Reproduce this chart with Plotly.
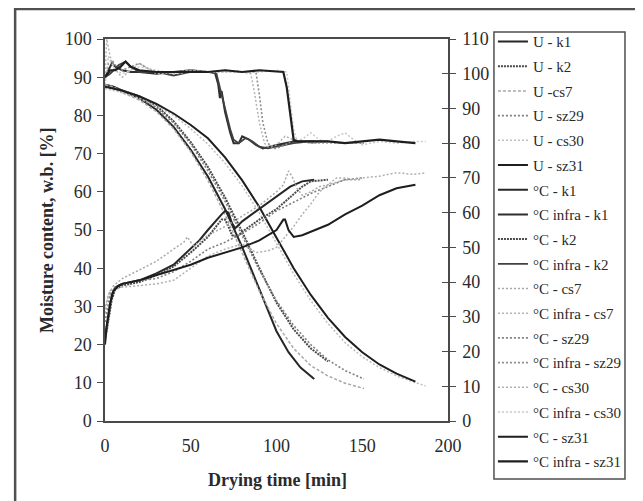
import plotly.graph_objects as go

# ---------------- data ----------------
# Moisture content, w.b. [%] (left axis)
t_U_k1 = [0, 5, 10, 20, 30, 40, 50, 60, 70, 80, 90, 100, 107, 114, 122]
U_k1 = [88, 87.5, 86.5, 84.5, 81.5, 77, 71, 64, 55.5, 45.5, 34.5, 23.5, 18, 14, 11]

t_U_k2 = [0, 5, 10, 20, 30, 40, 50, 60, 70, 80, 90, 100, 110, 120, 130]
U_k2 = [88, 87.5, 86.5, 85, 82.5, 78.5, 73, 66.5, 58.5, 49.5, 40, 31, 24, 19, 15.6]

t_U_cs7 = [0, 5, 10, 20, 30, 40, 50, 60, 70, 80, 90, 100, 110, 120, 130, 140, 151]
U_cs7 = [88, 87.5, 86, 84, 81, 76.5, 70.5, 63, 54, 44, 34, 25.5, 19, 14.5, 11.8, 9.9, 8.5]

t_U_sz29 = [0, 5, 10, 20, 30, 40, 50, 60, 70, 80, 90, 100, 110, 120, 130, 140, 151]
U_sz29 = [87.5, 87, 86, 84.5, 82, 78, 72.5, 65.5, 57.5, 48.5, 39.5, 31.5, 25, 20, 16, 13.2, 11]

t_U_cs30 = [0, 5, 10, 20, 30, 40, 50, 60, 70, 80, 90, 100, 110, 120, 130, 140, 150, 160, 170, 180, 187]
U_cs30 = [87, 86.5, 86, 84.5, 82.5, 80, 76.5, 72.5, 67.5, 61.5, 54.5, 46.5, 38.5, 31.5, 25.5, 20.5, 16.8, 14, 11.8, 10.2, 9.2]

t_U_sz31 = [0, 5, 10, 20, 30, 40, 50, 60, 70, 80, 90, 100, 110, 120, 130, 140, 150, 160, 170, 181]
U_sz31 = [87.5, 87, 86.5, 85, 83, 80.5, 77.5, 74, 69, 63, 56, 48, 40, 33, 27, 22, 18, 14.8, 12.4, 10.3]

# Product temperature [°C] (right axis)
t_T_k1 = [0, 2, 4, 6, 10, 20, 30, 40, 50, 55, 60, 65, 68, 70, 72, 74, 76, 80, 90, 100, 108, 115, 122]
T_k1 = [24, 31, 36.5, 38.5, 39.5, 40.5, 42.5, 45, 49.5, 52, 55, 58, 59.5, 60.5, 60, 57, 55.5, 57.5, 61, 64.5, 67.5, 69, 69.5]

t_T_k2 = [0, 2, 4, 6, 10, 20, 30, 40, 50, 60, 65, 68, 70, 72, 74, 77, 80, 90, 100, 110, 115, 120, 130]
T_k2 = [23, 29.5, 35, 38, 39, 40, 42, 44.5, 48.5, 53, 56, 58, 58, 56, 53.5, 53, 54.5, 58, 61, 65.5, 67.5, 69, 69.5]

t_T_cs7 = [0, 2, 5, 10, 20, 30, 40, 46, 48, 50, 52, 60, 70, 80, 90, 100, 104, 107, 109, 112, 115, 120, 125, 130, 140, 150]
T_cs7 = [31, 36.5, 39, 41, 43.5, 46, 49.5, 51.5, 53, 51.5, 50.5, 53.5, 56, 59, 62, 66, 68, 72, 70.5, 67, 65, 66, 67.5, 68, 69.5, 69.5]

t_T_sz29 = [0, 3, 6, 10, 20, 30, 40, 50, 60, 70, 80, 90, 100, 110, 120, 130, 140, 150]
T_sz29 = [28.5, 36.5, 38.5, 39.5, 40.5, 41, 43, 46, 49.5, 51.5, 54, 57, 60.5, 63, 65.5, 67.5, 69.5, 70]

t_T_cs30 = [0, 3, 10, 20, 30, 40, 50, 60, 70, 80, 88, 95, 100, 105, 110, 115, 120, 125, 130, 135, 140, 145, 150, 160, 170, 180, 187]
T_cs30 = [33, 37.5, 38.5, 39, 39.5, 40.5, 44, 47.5, 49.5, 51, 48.5, 49, 50, 53, 56, 59.5, 62.5, 66, 68, 70, 70, 69.5, 70, 70.5, 71.5, 71, 71.5]

t_T_sz31 = [0, 1, 3, 5, 8, 10, 20, 30, 40, 50, 60, 70, 80, 90, 100, 104, 105, 107, 110, 115, 120, 130, 140, 150, 160, 170, 181]
T_sz31 = [22, 27.5, 34, 37.5, 39, 39.5, 40.5, 42, 43.5, 45, 47, 48.5, 50, 52, 55, 58, 58, 55, 53, 53.5, 54.5, 56.5, 59.5, 62, 65, 67, 68]

# Infra temperature [°C] (right axis)
t_I_k1 = [0, 2, 4, 6, 10, 15, 20, 30, 40, 50, 60, 64, 66, 67, 68, 70, 73, 75, 78, 80, 84, 88, 92, 96, 100, 110, 122]
I_k1 = [99, 101, 103, 102, 101, 100.5, 100.5, 100, 100.5, 101, 100.5, 100.5, 97, 93, 95, 89, 83, 80, 80, 82, 81, 79.5, 78.5, 79, 79.5, 80.5, 80.5]

t_I_k2 = [0, 3, 5, 8, 12, 15, 20, 30, 40, 50, 60, 65, 67, 70, 73, 75, 78, 82, 86, 90, 95, 100, 110, 120, 130]
I_k2 = [99, 100, 101, 102.5, 103.5, 102, 100.5, 100.5, 99.5, 100.5, 100.5, 100, 96, 90, 84, 81, 80, 81.5, 80.5, 79, 78.5, 79, 80, 80.5, 80.5]

t_I_cs7 = [0, 1, 3, 5, 8, 10, 15, 20, 25, 30, 40, 50, 60, 70, 80, 85, 87, 90, 93, 95, 100, 105, 110, 115, 120, 130, 140, 151]
I_cs7 = [99, 110, 105, 102, 100, 99, 101, 103, 101.5, 100, 100.5, 101, 100.5, 100.5, 100.5, 100, 95, 86, 80, 79, 79.5, 82, 81, 80.5, 80, 80, 80, 80]

t_I_sz29 = [0, 2, 4, 6, 10, 15, 20, 25, 30, 40, 50, 60, 70, 80, 88, 90, 92, 95, 98, 100, 105, 110, 120, 130, 140, 151]
I_sz29 = [98, 103, 104, 102.5, 101, 102, 103, 101.5, 100.5, 100, 101, 100.5, 101, 100.5, 100.5, 94, 86, 80, 78.5, 78.5, 79.5, 81, 80, 80.5, 80, 80]

t_I_cs30 = [0, 2, 4, 6, 10, 15, 20, 30, 40, 50, 60, 70, 80, 90, 100, 106, 108, 110, 112, 116, 120, 125, 130, 135, 140, 145, 150, 160, 170, 180, 187]
I_cs30 = [97, 105, 103, 101, 100, 101, 102, 101, 100, 100.5, 100.5, 100.5, 100.5, 100.5, 101, 100.5, 92, 84, 80.5, 81.5, 83, 81, 80.5, 82, 83, 81, 79.5, 80.5, 80, 80.5, 80.5]

t_I_sz31 = [0, 3, 6, 9, 12, 15, 20, 30, 40, 50, 60, 70, 80, 90, 100, 104, 106, 108, 110, 112, 120, 130, 140, 150, 160, 170, 181]
I_sz31 = [99, 101, 101, 102, 103.5, 102, 101, 100.5, 100.5, 100.5, 100.5, 101, 100.5, 101, 100.5, 100.5, 96, 88, 81, 80.5, 80.5, 80.5, 80, 80.5, 81, 80.5, 80]

x_ticks = [0, 50, 100, 150, 200]
y_ticks = [0, 10, 20, 30, 40, 50, 60, 70, 80, 90, 100]
y2_ticks = [0, 10, 20, 30, 40, 50, 60, 70, 80, 90, 100, 110]

# ---------------- styles ----------------
FONT = "Liberation Serif"
sty = {
    "U-k1": ("#262626", "solid", 2.0),
    "U-k2": ("#4a4a4a", "2px,1px", 2.0),
    "U-cs7": ("#a8a8a8", "3px,2px", 1.5),
    "U-sz29": ("#808080", "2px,2px", 1.6),
    "U-cs30": ("#bcbcbc", "2px,2px", 1.5),
    "U-sz31": ("#1e1e1e", "solid", 2.0),
    "C-k1": ("#262626", "solid", 2.0),
    "I-k1": ("#2e2e2e", "solid", 2.0),
    "C-k2": ("#4a4a4a", "2px,1px", 2.0),
    "I-k2": ("#404040", "solid", 1.8),
    "C-cs7": ("#a8a8a8", "2px,2px", 1.5),
    "I-cs7": ("#b4b4b4", "2px,2px", 1.5),
    "C-sz29": ("#808080", "2px,2px", 1.6),
    "I-sz29": ("#8c8c8c", "2px,2px", 1.6),
    "C-cs30": ("#b0b0b0", "2px,2px", 1.5),
    "I-cs30": ("#c8c8c8", "2px,2px", 1.5),
    "C-sz31": ("#1e1e1e", "solid", 2.0),
    "I-sz31": ("#1e1e1e", "solid", 2.2),
}

series = [
    ("U - k1", "U-k1", t_U_k1, U_k1, "y"),
    ("U - k2", "U-k2", t_U_k2, U_k2, "y"),
    ("U -cs7", "U-cs7", t_U_cs7, U_cs7, "y"),
    ("U - sz29", "U-sz29", t_U_sz29, U_sz29, "y"),
    ("U - cs30", "U-cs30", t_U_cs30, U_cs30, "y"),
    ("U - sz31", "U-sz31", t_U_sz31, U_sz31, "y"),
    ("°C - k1", "C-k1", t_T_k1, T_k1, "y2"),
    ("°C infra - k1", "I-k1", t_I_k1, I_k1, "y2"),
    ("°C - k2", "C-k2", t_T_k2, T_k2, "y2"),
    ("°C infra - k2", "I-k2", t_I_k2, I_k2, "y2"),
    ("°C - cs7", "C-cs7", t_T_cs7, T_cs7, "y2"),
    ("°C infra - cs7", "I-cs7", t_I_cs7, I_cs7, "y2"),
    ("°C - sz29", "C-sz29", t_T_sz29, T_sz29, "y2"),
    ("°C infra - sz29", "I-sz29", t_I_sz29, I_sz29, "y2"),
    ("°C - cs30", "C-cs30", t_T_cs30, T_cs30, "y2"),
    ("°C infra - cs30", "I-cs30", t_I_cs30, I_cs30, "y2"),
    ("°C - sz31", "C-sz31", t_T_sz31, T_sz31, "y2"),
    ("°C infra - sz31", "I-sz31", t_I_sz31, I_sz31, "y2"),
]

fig = go.Figure()
for i, (name, key, tx, vy, ax) in enumerate(series):
    c, d, w = sty[key]
    fig.add_trace(go.Scatter(
        x=tx, y=vy, name=name, mode="lines", yaxis=ax,
        legendgroup=f"g{i}",
        line=dict(color=c, dash=d, width=w, shape="linear"),
    ))

axis_col = "#4a4a4a"
fig.update_layout(
    width=643, height=501,
    margin=dict(l=97, r=203, t=31, b=88),
    paper_bgcolor="white", plot_bgcolor="white",
    font=dict(family=FONT, color="#2a2a2a", size=18),
    showlegend=True,
    legend=dict(
        x=1.131, y=1.036, xanchor="left", yanchor="top",
        borderwidth=0, maxheight=1.0,
        font=dict(family=FONT, size=15, color="#2a2a2a"),
        tracegroupgap=2.2, itemwidth=30,
        bgcolor="rgba(0,0,0,0)",
    ),
    xaxis=dict(
        range=[0, 200], tickvals=x_ticks, showgrid=False, zeroline=False,
        showline=True, linecolor=axis_col, linewidth=1.5, mirror=True,
        ticks="", ticklabelstandoff=8,
        tickfont=dict(family=FONT, size=18, color="#2a2a2a"),
    ),
    yaxis=dict(
        range=[0, 100], tickvals=y_ticks, showgrid=False, zeroline=False,
        showline=True, linecolor=axis_col, linewidth=1.5,
        ticks="outside", ticklen=6, tickcolor=axis_col, tickwidth=1.2,
        ticklabelstandoff=2,
        tickfont=dict(family=FONT, size=18, color="#2a2a2a"),
    ),
    yaxis2=dict(
        range=[0, 110], tickvals=y2_ticks, overlaying="y", side="right",
        showgrid=False, zeroline=False,
        showline=True, linecolor=axis_col, linewidth=1.5,
        ticks="outside", ticklen=6, tickcolor=axis_col, tickwidth=1.2,
        ticklabelstandoff=3,
        tickfont=dict(family=FONT, size=18, color="#2a2a2a"),
    ),
    yaxis3=dict(
        range=[0, 110], tickvals=y2_ticks, overlaying="y", side="right",
        showgrid=False, zeroline=False, showline=False,
        ticks="inside", ticklen=6, tickcolor=axis_col, tickwidth=1.2,
        showticklabels=False,
    ),
    annotations=[
        dict(text="<b>Moisture content, w.b. [%]</b>", xref="paper", yref="paper",
             x=-0.169, y=0.5, textangle=-90, showarrow=False,
             xanchor="center", yanchor="middle",
             font=dict(family=FONT, size=18, color="#2a2a2a")),
        dict(text="<b>Drying time [min]</b>", xref="paper", yref="paper",
             x=0.503, y=-0.154, showarrow=False,
             xanchor="center", yanchor="middle",
             font=dict(family=FONT, size=18, color="#2a2a2a")),
    ],
    shapes=[
        # outer chart frame
        dict(type="rect", xref="paper", yref="paper",
             x0=-0.262, x1=1.557, y0=-0.26, y1=1.0785,
             line=dict(color="#505050", width=2.5), layer="below"),
        # legend box
        dict(type="rect", xref="paper", yref="paper",
             x0=1.134, x1=1.516, y0=-0.152, y1=1.0183,
             line=dict(color="#505050", width=1.5), layer="below"),
    ],
)
# invisible trace so the crossing-tick helper axis is drawn
fig.add_trace(go.Scatter(x=[0], y=[0], yaxis="y3", mode="lines",
                         showlegend=False, hoverinfo="skip",
                         line=dict(color="rgba(0,0,0,0)")))

fig.write_html("out.html")
